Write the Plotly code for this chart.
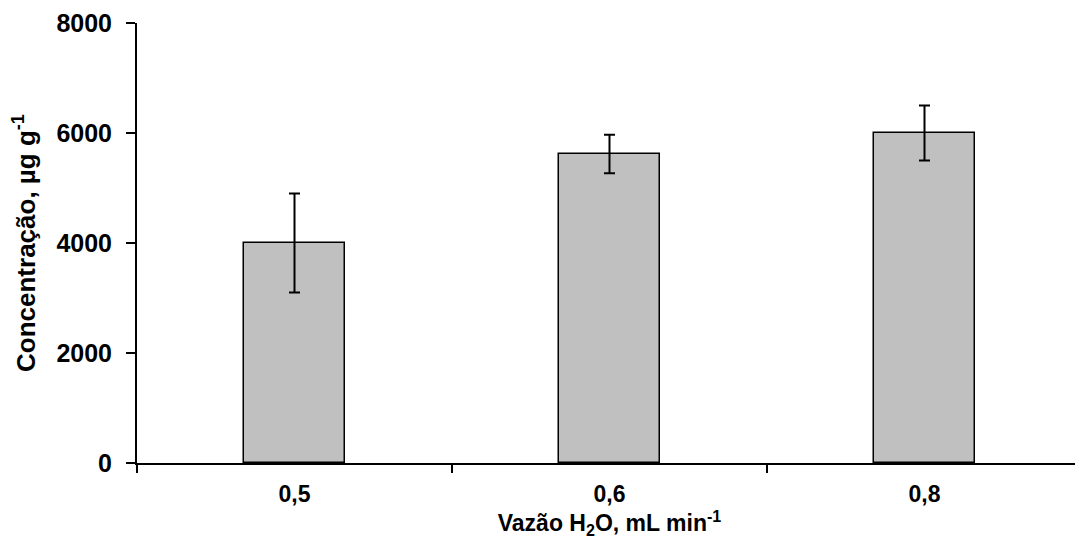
import plotly.graph_objects as go

# data
vazao = ["0,5", "0,6", "0,8"]
concentracao = [4000, 5620, 6000]
desvio = [900, 350, 500]

font_family = "Liberation Sans, Arial, sans-serif"

fig = go.Figure()
fig.add_trace(go.Bar(
    x=vazao,
    y=concentracao,
    width=0.32,
    marker=dict(color="#C0C0C0", line=dict(color="black", width=1.5)),
    error_y=dict(type="data", array=desvio, visible=True,
                 color="black", thickness=2, width=5.5),
    showlegend=False,
))

# page body adds an 8px margin, so the figure is a bit smaller than the window
fig.update_layout(
    width=1075, height=544,
    margin=dict(l=129, r=1, t=12, b=89),
    plot_bgcolor="white",
    paper_bgcolor="white",
    font=dict(family=font_family, size=24, color="black"),
    bargap=0,
)

fig.update_xaxes(
    type="category",
    showline=True, linecolor="black", linewidth=2,
    ticks="outside", tickson="boundaries", ticklen=8, tickwidth=1.5, tickcolor="black",
    tickfont=dict(family=font_family, size=23, color="black", weight="bold"),
    ticklabelstandoff=9,
    title=dict(text="<b>Vazão H<sub>2</sub>O, mL min<sup>-1</sup></b>",
               font=dict(family=font_family, size=23, color="black"), standoff=9),
    showgrid=False, zeroline=False,
)

fig.update_yaxes(
    range=[0, 8000], tickvals=[0, 2000, 4000, 6000, 8000],
    showline=True, linecolor="black", linewidth=2,
    ticks="outside", ticklen=9, tickwidth=1.5, tickcolor="black",
    tickfont=dict(family=font_family, size=25, color="black", weight="bold"),
    ticklabelstandoff=9, ticklabeloverflow="allow",
    title=dict(text="<b>Concentração, µg g<sup>-1</sup></b>",
               font=dict(family=font_family, size=26, color="black"), standoff=16),
    showgrid=False, zeroline=False,
)

fig.write_html("out.html")
